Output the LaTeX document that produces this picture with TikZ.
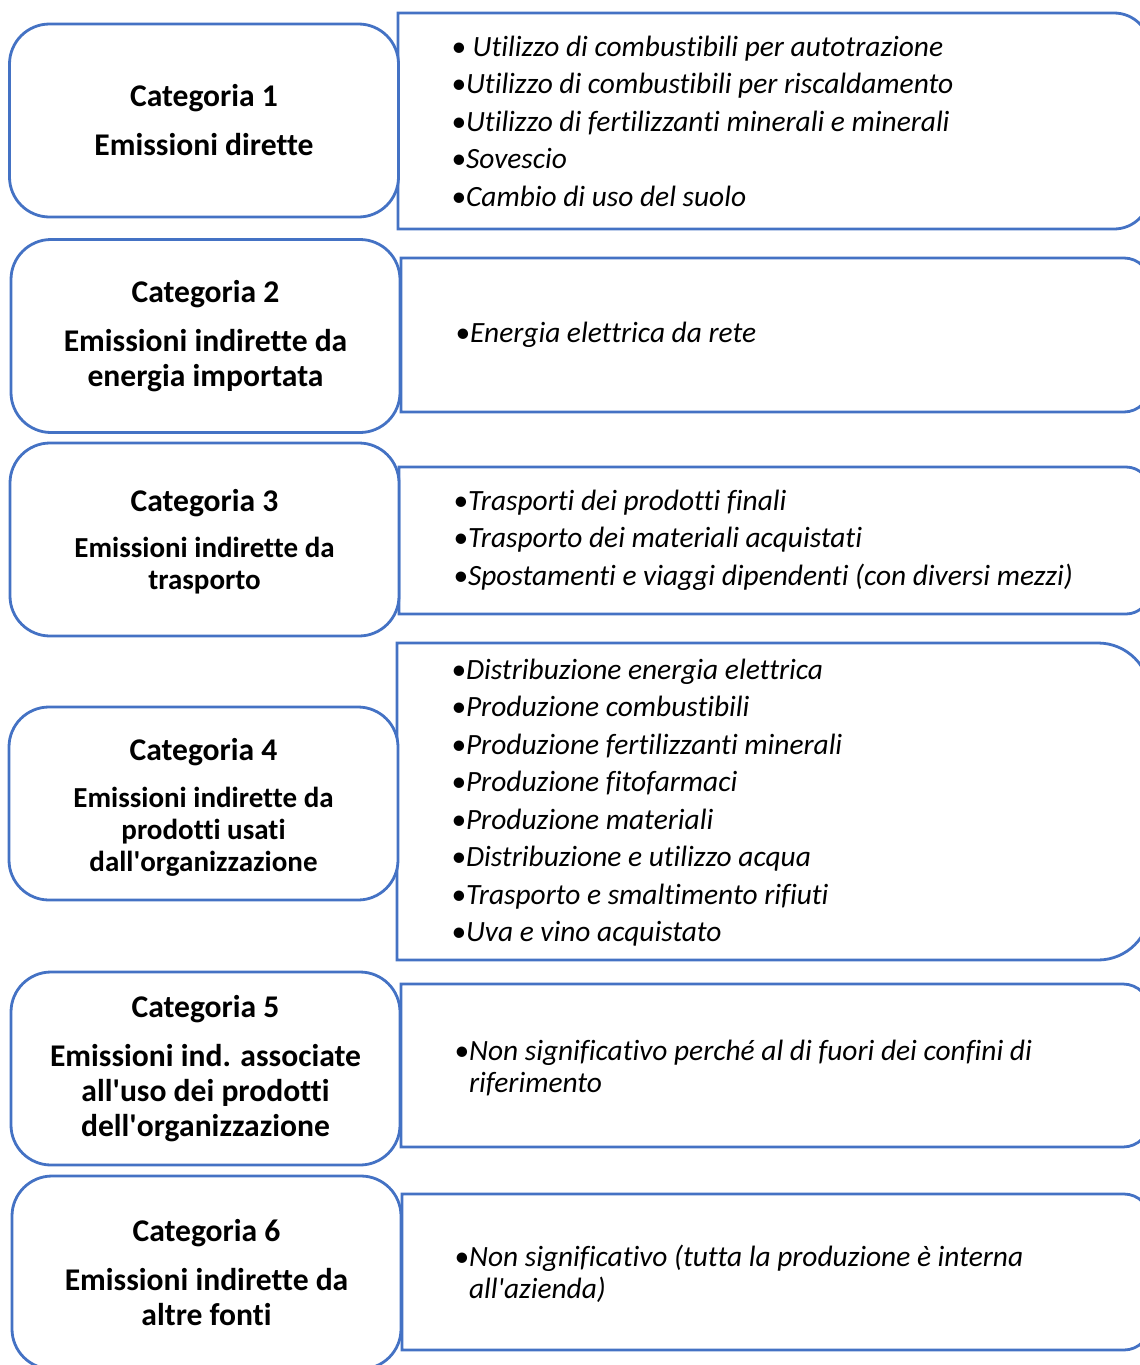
\documentclass[tikz,border=0pt]{standalone}
\usepackage{fontspec}
\setmainfont{Carlito}[Ligatures=NoCommon]
\usetikzlibrary{positioning}
\definecolor{boxblue}{RGB}{68,114,196}
\tikzset{
  catbox/.style={draw=boxblue, line width=1.4pt, rounded corners=20pt, fill=white,
    minimum width=194.5pt, minimum height=96.5pt, align=center, inner sep=0pt,
    font=\fontsize{15.8}{17.5}\selectfont\bfseries},
  smallcatbox/.style={catbox, font=\fontsize{14.5}{16}\selectfont\bfseries},
  descline/.style={draw=boxblue, line width=1.4pt},
  desctext/.style={anchor=west, align=left, inner sep=0pt,
    font=\fontsize{14.7}{16}\selectfont\itshape}
}
\newcommand{\bigcat}{\fontsize{15.8}{16}\selectfont}
\newcommand{\ap}{\textquotesingle}

\begin{document}
\begin{tikzpicture}[x=0.5pt,y=-0.5pt]
  \useasboundingbox (0,0) rectangle (1140,1365);
  \clip (0,0) rectangle (1140,1365);

  % description frames, open to the right
  \foreach \xl/\yt/\yb/\rr in {398/13/229/18, 401/258/412/13, 399/467/614/12,
                                397/643/960/26, 401/984/1147/13.5, 402/1194/1350/13}
    \draw[descline] (700,\yt) [rounded corners=\rr pt] -- (1150,\yt) -- (1150,\yb)
      -- (700,\yb) [sharp corners] -- (\xl,\yb) -- (\xl,\yt) -- cycle;

  % categories
  \node[catbox] (cat1) at (204,120.5) {Categoria 1\\[7pt]Emissioni dirette};
  \node[catbox] (cat2) at (205.5,336) {Categoria 2\\[7pt]Emissioni indirette da\\energia importata};
  \node[smallcatbox] (cat3) at (204.5,539.5) {{\bigcat\rule{0pt}{13pt}Categoria 3}\\[7pt]Emissioni indirette da\\trasporto};
  \node[smallcatbox] (cat4) at (203.5,803.5) {{\bigcat\rule{0pt}{14.5pt}Categoria 4}\\[7.5pt]Emissioni indirette da\\prodotti usati\\dall\ap organizzazione};
  \node[catbox] (cat5) at (205.5,1068.5) {Categoria 5\\[7pt]Emissioni ind. associate\\all\ap uso dei prodotti\\dell\ap organizzazione};
  \node[catbox] (cat6) at (206.5,1272.5) {Categoria 6\\[7pt]Emissioni indirette da\\altre fonti};

  % contents
  \node[desctext] (desc1) at (451,121) {• Utilizzo di combustibili per autotrazione\\[2.75pt]
    •Utilizzo di combustibili per riscaldamento\\[2.75pt]
    •Utilizzo di fertilizzanti minerali e minerali\\[2.75pt]
    •Sovescio\\[2.75pt]
    •Cambio di uso del suolo};
  \node[desctext] (desc2) at (455,335) {•Energia elettrica da rete};
  \node[desctext] (desc3) at (453,540) {•Trasporti dei prodotti finali\\[2.75pt]
    •Trasporto dei materiali acquistati\\[2.75pt]
    •Spostamenti e viaggi dipendenti (con diversi mezzi)};
  \node[desctext] (desc4) at (451,802.5) {•Distribuzione energia elettrica\\[2.75pt]
    •Produzione combustibili\\[2.75pt]
    •Produzione fertilizzanti minerali\\[2.75pt]
    •Produzione fitofarmaci\\[2.75pt]
    •Produzione materiali\\[2.75pt]
    •Distribuzione e utilizzo acqua\\[2.75pt]
    •Trasporto e smaltimento rifiuti\\[2.75pt]
    •Uva e vino acquistato};
  \node[desctext] (desc5) at (454,1068) {•Non significativo perché al di fuori dei confini di\\
    \phantom{•}riferimento};
  \node[desctext] (desc6) at (454,1274) {•Non significativo (tutta la produzione è interna\\
    \phantom{•}all\ap azienda)};
\end{tikzpicture}
\end{document}
